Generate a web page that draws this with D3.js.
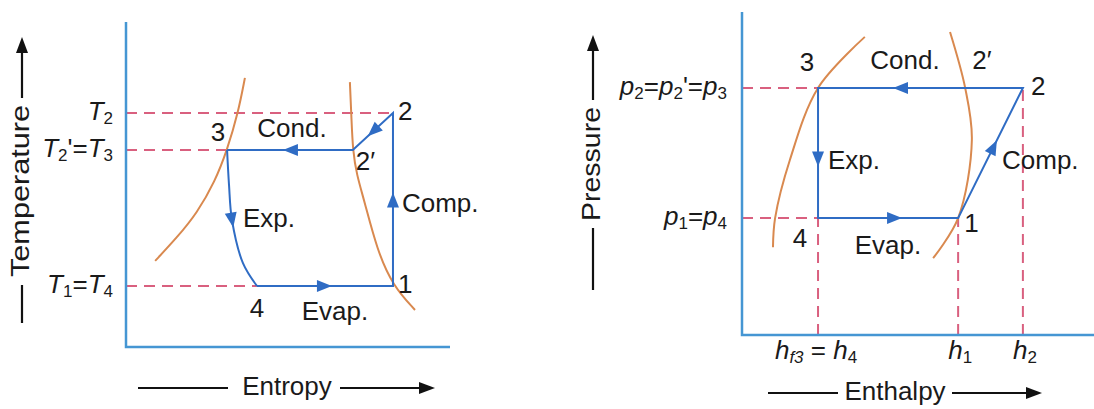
<!DOCTYPE html>
<html>
<head>
<meta charset="utf-8">
<script src="https://cdn.jsdelivr.net/npm/d3@7"></script>
<style>
  body { margin: 0; background: #fff; }
  svg text { font-family: "Liberation Sans", Arial, sans-serif; fill: #1a1a1a; }
</style>
</head>
<body>
<svg width="1094" height="409"></svg>
<script>
// T-s diagram (left) - values in arbitrary diagram units 0..10
const tsCycle = [
  { x: 8.24, y: 1.88, name: '1' },
  { x: 8.24, y: 7.20, name: '2' },
  { x: 7.00, y: 6.06, name: "2'" },
  { x: 3.12, y: 6.06, name: '3' },
  { x: 4.04, y: 1.88, name: '4' }
];
const tsExpansion = [[3.12, 6.06], [3.18, 4.98], [3.27, 3.91], [3.61, 2.58], [4.04, 1.88]];
const tsLiquid = [[0.90, 2.65], [1.60, 3.40], [2.19, 4.12], [2.75, 5.10], [3.12, 6.06], [3.46, 7.20], [3.67, 8.28]];
const tsVapor = [[6.91, 8.15], [6.96, 7.00], [7.00, 6.06], [7.12, 5.30], [7.35, 4.52], [7.75, 2.98], [8.24, 1.88], [8.92, 1.14]];
const tsLevels = [7.20, 6.06, 1.88];   // T2, T2'=T3, T1=T4

// p-h diagram (right)
const phCycle = [
  { x: 6.14, y: 3.62, name: '1' },
  { x: 7.98, y: 7.65, name: '2' },
  { x: 2.16, y: 7.65, name: '3' },
  { x: 2.16, y: 3.62, name: '4' }
];
const phLiquid = [[0.88, 2.72], [0.94, 3.62], [1.36, 5.42], [2.16, 7.65], [3.49, 9.23]];
const phVapor = [[5.91, 9.38], [6.34, 7.65], [6.53, 6.04], [6.14, 3.62], [5.43, 2.38]];
const phPressures = [7.65, 3.62];         // p2=p2'=p3, p1=p4
const phEnthalpies = [2.16, 6.14, 7.98];  // hf3=h4, h1, h2

const AXIS = '#4596d3', CYCLE = '#2f6cc4', DASH = '#d9607f', SAT = '#d9894f';
const FS = 26;

const svg = d3.select('svg');

// arrow-head markers on the cycle
function arrowAt(g, p, angle, color) {
  g.append('path')
    .attr('d', 'M7,0 L-8,-6 L-8,6 Z')
    .attr('fill', color)
    .attr('transform', `translate(${p[0]},${p[1]}) rotate(${angle * 180 / Math.PI})`);
}
function segArrow(g, a, b, f, color) {
  const p = [a[0] + (b[0] - a[0]) * f, a[1] + (b[1] - a[1]) * f];
  arrowAt(g, p, Math.atan2(b[1] - a[1], b[0] - a[0]), color);
}
function pathArrow(g, node, f, color) {
  const L = node.getTotalLength();
  const p = node.getPointAtLength(L * f), q = node.getPointAtLength(L * f + 1);
  arrowAt(g, [p.x, p.y], Math.atan2(q.y - p.y, q.x - p.x), color);
}

// a rich text with subscripts: parts = [[text, 'sub'|'it'|'']]
function richText(g, x, y, parts, anchor) {
  const t = g.append('text').attr('x', x).attr('y', y)
    .attr('text-anchor', anchor).attr('font-size', FS).attr('dominant-baseline', 'middle');
  parts.forEach(([s, k]) => {
    const sp = t.append('tspan').text(s);
    if (k.includes('it')) sp.attr('font-style', 'italic');
    if (k.includes('sub')) sp.attr('font-size', 17).attr('dy', 7);
    if (k.includes('up')) sp.attr('dy', -7);
  });
  return t;
}

function axisArrowH(g, x0, x1, y) {
  g.append('line').attr('x1', x0).attr('x2', x1 - 12).attr('y1', y).attr('y2', y)
    .attr('stroke', '#111').attr('stroke-width', 2.2);
  g.append('path').attr('d', `M${x1},${y} L${x1 - 16},${y - 6} L${x1 - 16},${y + 6} Z`).attr('fill', '#111');
}
function axisArrowV(g, x, y0, y1) {
  g.append('line').attr('x1', x).attr('x2', x).attr('y1', y0).attr('y2', y1 + 12)
    .attr('stroke', '#111').attr('stroke-width', 2.2);
  g.append('path').attr('d', `M${x},${y1} L${x - 6},${y1 + 16} L${x + 6},${y1 + 16} Z`).attr('fill', '#111');
}

const line = (sx, sy) => d3.line().x(d => sx(d[0])).y(d => sy(d[1]));

// ---------------- left: T-s ----------------
{
  const x = d3.scaleLinear().domain([0, 10]).range([126, 450]);
  const y = d3.scaleLinear().domain([0, 10]).range([347, 22]);
  const g = svg.append('g');
  const P = d => [x(d.x), y(d.y)];
  const [p1, p2, p2b, p3, p4] = tsCycle.map(P);

  // dashed levels
  g.selectAll('.lvl').data(tsLevels).join('line')
    .attr('x1', x(0)).attr('y1', d => y(d)).attr('y2', d => y(d))
    .attr('x2', (d, i) => [p2[0], p3[0], p4[0]][i])
    .attr('stroke', DASH).attr('stroke-width', 2).attr('stroke-dasharray', '11,7');

  // saturation curves
  g.append('path').datum(tsLiquid).attr('d', line(x, y).curve(d3.curveBasis))
    .attr('fill', 'none').attr('stroke', SAT).attr('stroke-width', 2);
  g.append('path').datum(tsVapor).attr('d', line(x, y).curve(d3.curveBasis))
    .attr('fill', 'none').attr('stroke', SAT).attr('stroke-width', 2);

  // cycle
  const cyc = g.append('g').attr('stroke', CYCLE).attr('stroke-width', 2).attr('fill', 'none');
  cyc.append('path').attr('d', d3.line()([p4, p1, p2, p2b, p3]));
  const exp = cyc.append('path').datum(tsExpansion).attr('d', line(x, y).curve(d3.curveCatmullRom));
  segArrow(g, p1, p2, 0.5, CYCLE);
  segArrow(g, p2, p2b, 0.5, CYCLE);
  segArrow(g, p2b, p3, 0.5, CYCLE);
  segArrow(g, p4, p1, 0.5, CYCLE);
  pathArrow(g, exp.node(), 0.5, CYCLE);

  // axes
  g.append('path').attr('d', `M${x(0)},${y(10)} V${y(0)} H${x(10)}`)
    .attr('fill', 'none').attr('stroke', AXIS).attr('stroke-width', 2.5);

  // tick labels
  richText(g, 113, y(tsLevels[0]), [['T', 'it'], ['2', 'sub']], 'end');
  richText(g, 113, y(tsLevels[1]), [['T', 'it'], ['2', 'sub'], ["'=", 'up'], ['T', 'it'], ['3', 'sub']], 'end');
  richText(g, 113, y(tsLevels[2]), [['T', 'it'], ['1', 'sub'], ['=', 'up'], ['T', 'it'], ['4', 'sub']], 'end');

  // point and process labels
  const lab = (t, px, py, a) => g.append('text').attr('x', px).attr('y', py).attr('font-size', FS)
    .attr('text-anchor', a || 'middle').attr('dominant-baseline', 'middle').text(t);
  lab('1', p1[0] + 5, p1[1], 'start');
  lab('2', p2[0] + 5, p2[1], 'start');
  lab("2\u2032", p2b[0] + 3, p2b[1] + 13, 'start');
  lab('3', p3[0] - 9, p3[1] - 16);
  lab('4', p4[0], p4[1] + 24);
  lab('Cond.', 292, 130);
  lab('Comp.', p1[0] + 9, 205, 'start');
  lab('Exp.', 243, 220, 'start');
  lab('Evap.', 335, 313);

  // axis titles
  axisArrowH(g, 138, 435, 388);
  g.append('rect').attr('x', 228).attr('y', 372).attr('width', 112).attr('height', 30).attr('fill', '#fff');
  lab('Entropy', 287, 388);
  axisArrowV(g, 22, 323, 37);
  g.append('rect').attr('x', 6).attr('y', 98).attr('width', 32).attr('height', 187).attr('fill', '#fff');
  g.append('text').attr('transform', 'translate(22,191) rotate(-90)').attr('font-size', FS)
    .attr('textLength', 172).attr('lengthAdjust', 'spacingAndGlyphs')
    .attr('text-anchor', 'middle').attr('dominant-baseline', 'middle').text('Temperature');
}

// ---------------- right: p-h ----------------
{
  const x = d3.scaleLinear().domain([0, 10]).range([742, 1094]);
  const y = d3.scaleLinear().domain([0, 10]).range([335, 12]);
  const g = svg.append('g');
  const P = d => [x(d.x), y(d.y)];
  const [p1, p2, p3, p4] = phCycle.map(P);

  // dashed levels
  g.selectAll('.plvl').data(phPressures).join('line')
    .attr('x1', x(0)).attr('x2', x(phEnthalpies[0])).attr('y1', d => y(d)).attr('y2', d => y(d))
    .attr('stroke', DASH).attr('stroke-width', 2).attr('stroke-dasharray', '11,7');
  g.selectAll('.hlvl').data(phEnthalpies).join('line')
    .attr('x1', d => x(d)).attr('x2', d => x(d)).attr('y1', y(0))
    .attr('y2', (d, i) => [p4[1], p1[1], p2[1]][i])
    .attr('stroke', DASH).attr('stroke-width', 2).attr('stroke-dasharray', '11,7');

  // saturation curves
  g.append('path').datum(phLiquid).attr('d', line(x, y).curve(d3.curveCatmullRom))
    .attr('fill', 'none').attr('stroke', SAT).attr('stroke-width', 2);
  g.append('path').datum(phVapor).attr('d', line(x, y).curve(d3.curveCatmullRom))
    .attr('fill', 'none').attr('stroke', SAT).attr('stroke-width', 2);

  // cycle
  g.append('path').attr('d', d3.line()([p1, p2, p3, p4]) + 'Z')
    .attr('fill', 'none').attr('stroke', CYCLE).attr('stroke-width', 2);
  segArrow(g, p1, p2, 0.55, CYCLE);
  segArrow(g, p2, p3, 0.6, CYCLE);
  segArrow(g, p3, p4, 0.55, CYCLE);
  segArrow(g, p4, p1, 0.55, CYCLE);

  // axes
  g.append('path').attr('d', `M${x(0)},${y(10)} V${y(0)} H${x(10)}`)
    .attr('fill', 'none').attr('stroke', AXIS).attr('stroke-width', 2.5);

  // tick labels
  richText(g, 727, y(phPressures[0]), [['p', 'it'], ['2', 'sub'], ['=', 'up'], ['p', 'it'], ['2', 'sub'], ["'=", 'up'], ['p', 'it'], ['3', 'sub']], 'end');
  richText(g, 727, y(phPressures[1]), [['p', 'it'], ['1', 'sub'], ['=', 'up'], ['p', 'it'], ['4', 'sub']], 'end');
  richText(g, x(phEnthalpies[0]) - 2, 352, [['h', 'it'], ['f3', 'sub it'], [' = ', 'up'], ['h', 'it'], ['4', 'sub']], 'middle');
  richText(g, x(phEnthalpies[1]) + 2, 352, [['h', 'it'], ['1', 'sub']], 'middle');
  richText(g, x(phEnthalpies[2]) + 2, 352, [['h', 'it'], ['2', 'sub']], 'middle');

  const lab = (t, px, py, a) => g.append('text').attr('x', px).attr('y', py).attr('font-size', FS)
    .attr('text-anchor', a || 'middle').attr('dominant-baseline', 'middle').text(t);
  lab('1', p1[0] + 6, p1[1] + 7, 'start');
  lab('2', p2[0] + 8, p2[1], 'start');
  lab("2\u2032", 982, 62);
  lab('3', p3[0] - 11, p3[1] - 24);
  lab('4', p4[0] - 18, p4[1] + 22);
  lab('Cond.', 905, 62);
  lab('Comp.', 1002, 162, 'start');
  lab('Exp.', p3[0] + 10, 162, 'start');
  lab('Evap.', 888, 247);

  // axis titles
  axisArrowH(g, 768, 1042, 393);
  g.append('rect').attr('x', 838).attr('y', 378).attr('width', 114).attr('height', 30).attr('fill', '#fff');
  lab('Enthalpy', 895, 393);
  axisArrowV(g, 593, 290, 35);
  g.append('rect').attr('x', 578).attr('y', 100).attr('width', 32).attr('height', 128).attr('fill', '#fff');
  g.append('text').attr('transform', 'translate(593,164) rotate(-90)').attr('font-size', FS)
    .attr('textLength', 114).attr('lengthAdjust', 'spacingAndGlyphs')
    .attr('text-anchor', 'middle').attr('dominant-baseline', 'middle').text('Pressure');
}
</script>
</body>
</html>
